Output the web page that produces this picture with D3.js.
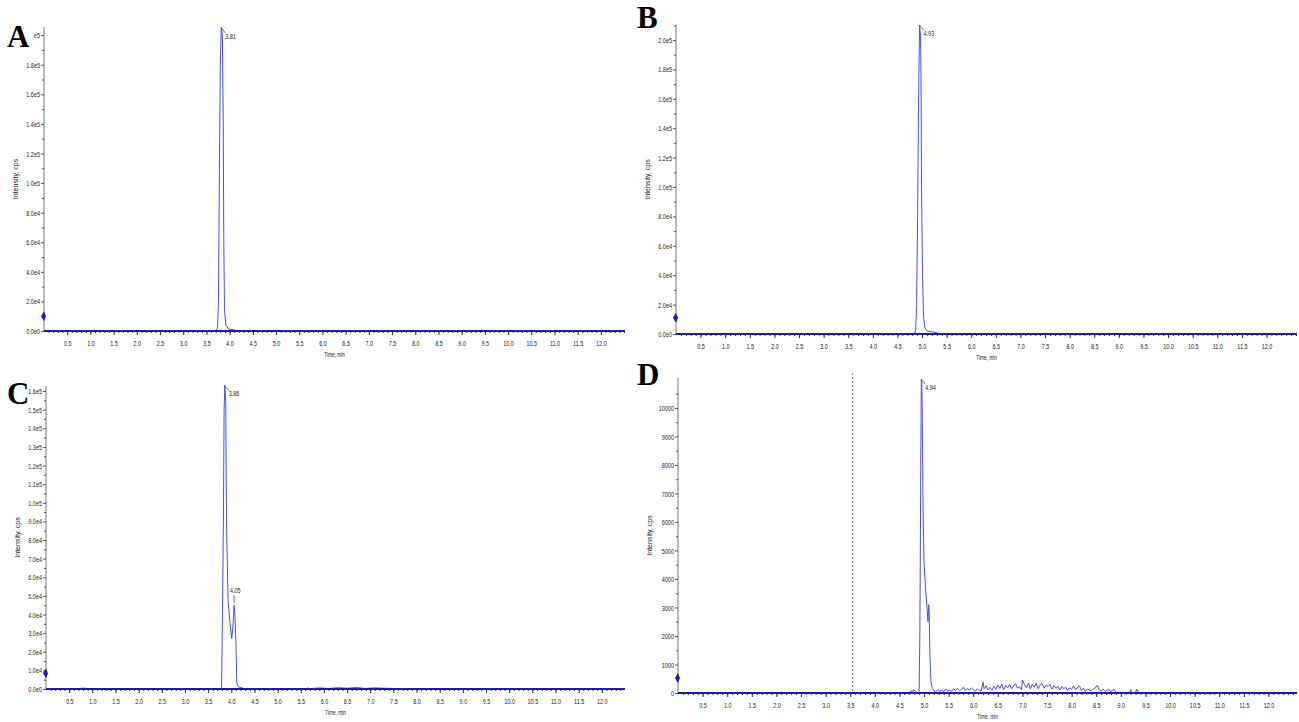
<!DOCTYPE html>
<html>
    <head>
        <script src="https://cdnjs.cloudflare.com/ajax/libs/d3/7.8.5/d3.min.js"></script>
        <title>Chromatograms</title>
        <style>
            html, body { margin: 0; background: #fff; }
            svg { display: block; }
            .tick text { font-family: "Liberation Sans", Arial, sans-serif; font-size: 8px; fill: #222; }
            .small { font-family: "Liberation Sans", Arial, sans-serif; font-size: 8px; fill: #222; }
            .letter { font-family: "Liberation Serif", "Times New Roman", serif; font-weight: bold; font-size: 31px; fill: #000; }
        </style>
    </head>
    <body>
        <svg width="1299" height="722"></svg>
        <script>
            // x tick labels (minutes)
            var xTicks = [0.5, 1.0, 1.5, 2.0, 2.5, 3.0, 3.5, 4.0, 4.5, 5.0, 5.5, 6.0, 6.5, 7.0, 7.5, 8.0, 8.5, 9.0, 9.5, 10.0, 10.5, 11.0, 11.5, 12.0];

            // y ticks / labels
            var yTicksA = [0, 2e4, 4e4, 6e4, 8e4, 1e5, 1.2e5, 1.4e5, 1.6e5, 1.8e5, 2e5];
            var yLabelsA = ["0.0e0", "2.0e4", "4.0e4", "6.0e4", "8.0e4", "1.0e5", "1.2e5", "1.4e5", "1.6e5", "1.8e5", "e5"];
            var yTicksB = [0, 2e4, 4e4, 6e4, 8e4, 1e5, 1.2e5, 1.4e5, 1.6e5, 1.8e5, 2e5];
            var yLabelsB = ["0.0e0", "2.0e4", "4.0e4", "6.0e4", "8.0e4", "1.0e5", "1.2e5", "1.4e5", "1.6e5", "1.8e5", "2.0e5"];
            var yTicksC = [0, 1e4, 2e4, 3e4, 4e4, 5e4, 6e4, 7e4, 8e4, 9e4, 1e5, 1.1e5, 1.2e5, 1.3e5, 1.4e5, 1.5e5, 1.6e5];
            var yLabelsC = ["0.0e0", "1.0e4", "2.0e4", "3.0e4", "4.0e4", "5.0e4", "6.0e4", "7.0e4", "8.0e4", "9.0e4", "1.0e5", "1.1e5", "1.2e5", "1.3e5", "1.4e5", "1.5e5", "1.6e5"];
            var yTicksD = [0, 1000, 2000, 3000, 4000, 5000, 6000, 7000, 8000, 9000, 10000];
            var yLabelsD = ["0", "1000", "2000", "3000", "4000", "5000", "6000", "7000", "8000", "9000", "10000"];

            // traces: [time (min), intensity (cps)]
            var traceA = [[0, 0], [3.70, 0], [3.74, 2000], [3.76, 20000], [3.78, 110000], [3.80, 180000], [3.82, 205000],
                [3.845, 200000], [3.86, 150000], [3.875, 60000], [3.89, 14000], [3.92, 4000], [3.97, 1500], [4.05, 1000],
                [4.12, 600], [4.16, 0], [12.52, 0]];

            var traceB = [[0, 0], [4.84, 0], [4.87, 2000], [4.89, 20000], [4.91, 80000], [4.93, 160000], [4.95, 210000],
                [4.97, 203000], [4.98, 170000], [4.99, 100000], [5.01, 40000], [5.03, 12000], [5.06, 4000], [5.10, 2000],
                [5.20, 1500], [5.30, 800], [5.34, 0], [12.62, 0]];

            var traceC = [[0, 0], [0.72, 0], [0.76, 500], [0.80, 300], [0.84, 600], [0.88, 0], [3.79, 0], [3.81, 40000],
                [3.83, 90000], [3.845, 150000], [3.86, 163000], [3.88, 155000], [3.89, 115000], [3.90, 86000], [3.93, 48000],
                [3.97, 36000], [4.01, 27000], [4.04, 35000], [4.06, 45000], [4.08, 40000], [4.10, 25000], [4.12, 3000],
                [4.16, 1000], [4.25, 500], [4.30, 0], [4.70, 0], [4.75, 400], [4.80, 0], [5.60, 0], [5.65, 500], [5.70, 200],
                [5.90, 600], [6.10, 300], [6.30, 700], [6.50, 400], [6.70, 800], [6.90, 300], [7.10, 600], [7.30, 400],
                [7.50, 300], [7.70, 0], [12.5, 0]];

            var traceD = [[0, 0], [4.70, 0], [4.73, 80], [4.76, 0], [4.79, 120], [4.82, 60], [4.86, 0], [4.90, 0],
                [4.915, 2000], [4.925, 5000], [4.935, 8500], [4.945, 11000], [4.955, 10900], [4.965, 9700], [4.98, 6500],
                [5.00, 4600], [5.03, 3700], [5.06, 3000], [5.08, 2500], [5.095, 3100], [5.105, 2800], [5.12, 1300],
                [5.14, 400], [5.17, 150],
                [5.20, 80], [5.24, 40], [5.28, 120], [5.32, 60], [5.36, 100], [5.40, 50], [5.44, 140], [5.48, 70],
                [5.52, 110], [5.56, 60], [5.60, 150], [5.64, 90], [5.68, 170], [5.72, 80], [5.76, 130], [5.80, 200],
                [5.84, 90], [5.88, 160], [5.92, 100], [5.96, 180], [6.00, 120], [6.04, 60], [6.08, 150], [6.12, 90],
                [6.16, 70], [6.20, 380], [6.22, 150], [6.26, 250], [6.30, 110], [6.34, 200], [6.38, 90], [6.42, 240],
                [6.46, 130], [6.50, 280], [6.54, 160], [6.58, 310], [6.62, 120], [6.66, 260], [6.70, 180], [6.74, 300],
                [6.78, 150], [6.82, 240], [6.86, 330], [6.90, 170], [6.94, 220], [6.98, 120], [7.00, 460], [7.04, 300],
                [7.08, 180], [7.12, 350], [7.16, 140], [7.20, 310], [7.24, 200], [7.28, 340], [7.32, 150], [7.36, 290],
                [7.40, 330], [7.44, 170], [7.48, 280], [7.52, 220], [7.56, 300], [7.60, 130], [7.64, 260], [7.68, 170],
                [7.72, 240], [7.76, 110], [7.80, 230], [7.84, 150], [7.88, 200], [7.92, 90], [7.96, 180], [8.00, 130],
                [8.04, 250], [8.08, 110], [8.12, 200], [8.16, 240], [8.20, 90], [8.24, 170], [8.28, 60], [8.32, 140],
                [8.36, 110], [8.40, 70], [8.44, 130], [8.48, 180], [8.52, 270], [8.56, 120], [8.60, 60], [8.64, 140],
                [8.68, 50], [8.72, 110], [8.76, 130], [8.80, 40], [8.84, 120], [8.88, 90], [8.92, 0], [9.18, 0],
                [9.20, 120], [9.22, 20], [9.26, 0], [9.30, 20], [9.32, 140], [9.35, 30], [9.40, 0], [12.58, 0]];

            // peak labels: [time, intensity, text]
            var peaksA = [[3.82, 205000, "3.81"]];
            var peaksB = [[4.95, 210000, "4.93"]];
            var peaksC = [[3.86, 163000, "3.86"], [4.06, 45000, "4.05"]];
            var peaksD = [[4.945, 11000, "4.94"]];

            var panels = [
                {letter: "A", lx: 7, ly: 47, left: 44, right: 625, top: 27, bottom: 331, xMax: 12.52, yMax: 2.055e5,
                 trace: traceA, yTicks: yTicksA, yLabels: yLabelsA, yMinor: 1e4, peaks: peaksA, marker: 1.0e4},
                {letter: "B", lx: 637, ly: 28, left: 676, right: 1297, top: 25, bottom: 334, xMax: 12.62, yMax: 2.102e5,
                 trace: traceB, yTicks: yTicksB, yLabels: yLabelsB, yMinor: 1e4, peaks: peaksB, marker: 1.1e4},
                {letter: "C", lx: 7, ly: 404, left: 46, right: 625, top: 386, bottom: 689, xMax: 12.5, yMax: 1.627e5,
                 trace: traceC, yTicks: yTicksC, yLabels: yLabelsC, yMinor: 5e3, peaks: peaksC, marker: 0.85e4},
                {letter: "D", lx: 637, ly: 385, left: 678, right: 1297, top: 378, bottom: 693, xMax: 12.58, yMax: 11050,
                 trace: traceD, yTicks: yTicksD, yLabels: yLabelsD, yMinor: 500, peaks: peaksD, marker: 530,
                 dashed: 3.55}
            ];

            var squeeze = "scale(0.68,1)";
            var svg = d3.select("svg");

            panels.forEach(function(p) {
                var x = d3.scaleLinear().domain([0, p.xMax]).range([p.left, p.right]);
                var y = d3.scaleLinear().domain([0, p.yMax]).range([p.bottom, p.top]);
                var g = svg.append("g");

                // y axis
                g.append("line")
                    .attr("x1", p.left).attr("x2", p.left)
                    .attr("y1", p.top).attr("y2", p.bottom)
                    .attr("stroke", "#7a7a7a").attr("stroke-width", 1);

                var minorY = d3.range(p.yMinor, p.yMax, p.yMinor * 2);
                g.append("g")
                    .attr("transform", "translate(" + p.left + ",0)")
                    .call(d3.axisLeft(y).tickValues(minorY).tickSize(2).tickFormat(""))
                    .call(function(s) { s.select(".domain").remove(); s.selectAll("line").attr("stroke", "#555"); });

                g.append("g")
                    .attr("transform", "translate(" + p.left + ",0)")
                    .call(d3.axisLeft(y).tickValues(p.yTicks).tickSize(3).tickPadding(3)
                        .tickFormat(function(d, i) { return p.yLabels[i]; }))
                    .call(function(s) {
                        s.select(".domain").remove();
                        s.selectAll("line").attr("stroke", "#555");
                        s.selectAll("text").attr("transform", squeeze);
                    });

                // x axis
                var minorX = d3.range(0.1, p.xMax, 0.1);
                g.append("g")
                    .attr("transform", "translate(0," + p.bottom + ")")
                    .call(d3.axisBottom(x).tickValues(minorX).tickSize(2).tickFormat(""))
                    .call(function(s) { s.select(".domain").remove(); s.selectAll("line").attr("stroke", "#333"); });

                g.append("g")
                    .attr("transform", "translate(0," + p.bottom + ")")
                    .call(d3.axisBottom(x).tickValues(xTicks).tickSize(4).tickPadding(5).tickFormat(d3.format(".1f")))
                    .call(function(s) {
                        s.select(".domain").remove();
                        s.selectAll("line").attr("stroke", "#333");
                        s.selectAll("text").attr("transform", squeeze);
                    });

                // dashed marker line
                if (p.dashed !== undefined) {
                    g.append("line")
                        .attr("x1", x(p.dashed)).attr("x2", x(p.dashed))
                        .attr("y1", p.top - 5).attr("y2", p.bottom)
                        .attr("stroke", "#555").attr("stroke-width", 0.8)
                        .attr("stroke-dasharray", "2,2");
                }

                // trace
                var line = d3.line()
                    .x(function(d) { return x(d[0]); })
                    .y(function(d) { return y(d[1]); });

                g.append("path")
                    .datum(p.trace)
                    .attr("d", line)
                    .attr("fill", "none")
                    .attr("stroke", "#4a4aff")
                    .attr("stroke-width", 1);

                // thick baseline
                g.append("line")
                    .attr("x1", p.left).attr("x2", p.right)
                    .attr("y1", y(0)).attr("y2", y(0))
                    .attr("stroke", "#1c1ca8").attr("stroke-width", 2.2);

                // peak labels
                p.peaks.forEach(function(pk) {
                    var px = x(pk[0]), py = y(pk[1]);
                    if (pk[1] < p.yMax * 0.5) {
                        g.append("line")
                            .attr("x1", px).attr("x2", px)
                            .attr("y1", py - 2).attr("y2", py - 10)
                            .attr("stroke", "#333").attr("stroke-width", 0.7);
                        g.append("text").attr("class", "small")
                            .attr("transform", "translate(" + (px - 4) + "," + (py - 12) + ") " + squeeze)
                            .text(pk[2]);
                    } else {
                        g.append("line")
                            .attr("x1", px).attr("x2", px + 4)
                            .attr("y1", py).attr("y2", py + 5)
                            .attr("stroke", "#333").attr("stroke-width", 0.7);
                        g.append("text").attr("class", "small")
                            .attr("transform", "translate(" + (px + 4) + "," + (py + 11) + ") " + squeeze)
                            .text(pk[2]);
                    }
                });

                // y axis marker
                var my = y(p.marker);
                g.append("path")
                    .attr("d", "M" + (p.left - 3) + "," + my + " L" + p.left + "," + (my - 5) +
                        " L" + (p.left + 2) + "," + my + " L" + p.left + "," + (my + 5) + "Z")
                    .attr("fill", "#1a1ad0");

                // axis titles
                g.append("text").attr("class", "small")
                    .attr("transform", "translate(" + (p.left - 26) + "," + ((p.top + p.bottom) / 2) + ") rotate(-90)")
                    .attr("text-anchor", "middle")
                    .style("font-size", "7px")
                    .text("Intensity, cps");

                g.append("text").attr("class", "small")
                    .attr("transform", "translate(" + ((p.left + p.right) / 2) + "," + (p.bottom + 26) + ") " + squeeze)
                    .attr("text-anchor", "middle")
                    .style("font-size", "7px")
                    .text("Time, min");

                svg.append("text").attr("class", "letter")
                    .attr("x", p.lx).attr("y", p.ly)
                    .text(p.letter);
            });
        </script>
    </body>
</html>
